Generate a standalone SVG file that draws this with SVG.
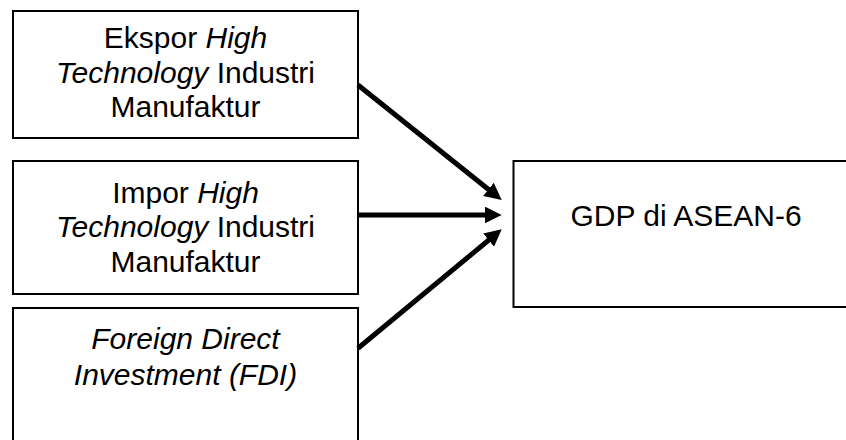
<svg xmlns="http://www.w3.org/2000/svg" width="846" height="440" viewBox="0 0 846 440">
<style>
.box{fill:#fff;stroke:#000;stroke-width:2}
.t{font-family:"Liberation Sans",Arial,sans-serif;font-size:30px;fill:#000;text-anchor:middle}
.i{font-style:italic}
.c{stroke:#000;stroke-width:5;fill:none}
</style>
<defs>
<marker id="ah" markerUnits="userSpaceOnUse" viewBox="0 0 17 17" markerWidth="17" markerHeight="17" refX="7" refY="8.5" orient="auto">
<path d="M0,0 L17,8.5 L0,17 z" fill="#000"/>
</marker>
</defs>
<rect width="846" height="440" fill="#fff"/>
<g id="node-ekspor">
<rect class="box" x="13" y="11" width="345" height="127"/>
<text class="t" x="185.5" y="48.3">Ekspor <tspan class="i">High</tspan></text>
<text class="t" x="185.5" y="82.7"><tspan class="i">Technology</tspan> Industri</text>
<text class="t" x="185.5" y="117">Manufaktur</text>
</g>
<g id="node-impor">
<rect class="box" x="13" y="161" width="345" height="133"/>
<text class="t" x="185.5" y="202.7">Impor <tspan class="i">High</tspan></text>
<text class="t" x="185.5" y="237"><tspan class="i">Technology</tspan> Industri</text>
<text class="t" x="185.5" y="271.7">Manufaktur</text>
</g>
<g id="node-fdi">
<rect class="box" x="13" y="308" width="345" height="150"/>
<text class="t i" x="185.5" y="349.3">Foreign Direct</text>
<text class="t i" x="185.5" y="385">Investment (FDI)</text>
</g>
<g id="node-gdp">
<rect class="box" x="513.5" y="161" width="350" height="146"/>
<text class="t" x="686" y="226">GDP di ASEAN-6</text>
</g>
<g id="connectors">
<line class="c" x1="358" y1="85" x2="493.9" y2="193.75" marker-end="url(#ah)"/>
<line class="c" x1="358" y1="215" x2="491.7" y2="215" marker-end="url(#ah)"/>
<line class="c" x1="358" y1="348.3" x2="494" y2="235.7" marker-end="url(#ah)"/>
</g>
</svg>
